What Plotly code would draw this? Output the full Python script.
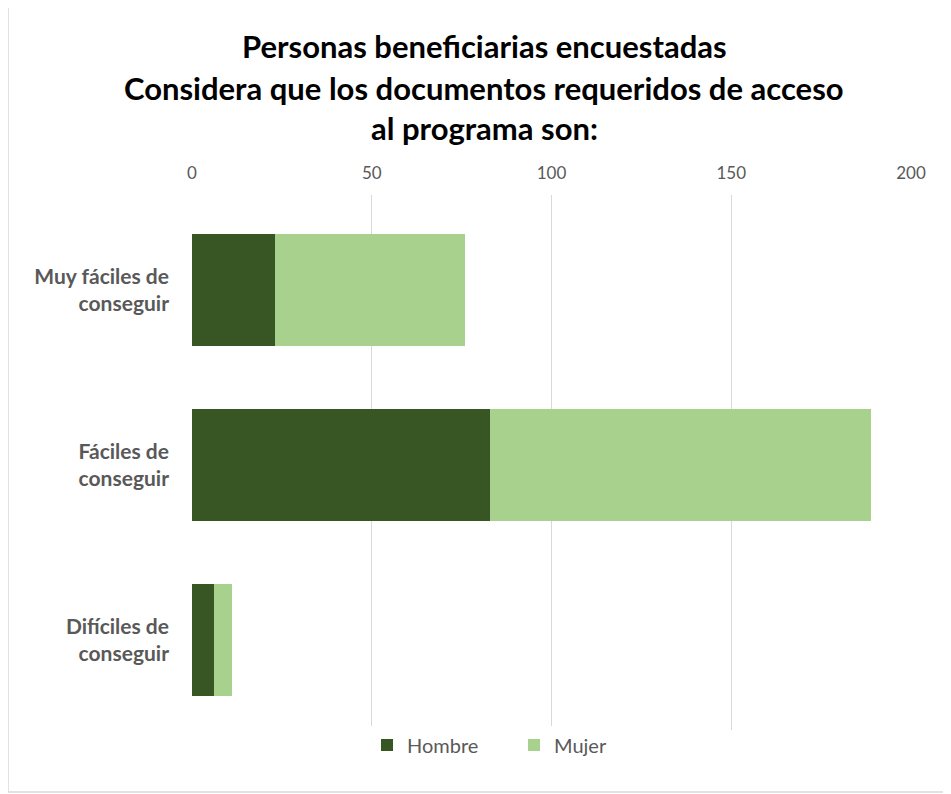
import plotly.graph_objects as go

categories = ["Muy fáciles de<br>conseguir", "Fáciles de<br>conseguir", "Difíciles de<br>conseguir"]
hombre = [23, 83, 6]
mujer = [53, 106, 5]
x_ticks = [0, 50, 100, 150, 200]
title_lines = [
    "Personas beneficiarias encuestadas",
    "Considera que los documentos requeridos de acceso",
    "al programa son:",
]

OFF = 8  # page body margin
W, H = 951 - OFF, 794 - OFF
L, R, T, B = 192 - OFF, 40, 195 - OFF, 794 - 730
pw, ph = W - L - R, H - T - B

FONT = "Lato, Open Sans, sans-serif"

fig = go.Figure()
fig.add_trace(go.Bar(y=categories, x=hombre, name="Hombre", orientation="h",
                     marker=dict(color="#375623", line=dict(width=0))))
fig.add_trace(go.Bar(y=categories, x=mujer, name="Mujer", orientation="h",
                     marker=dict(color="#A9D18E", line=dict(width=0))))

def px_x(p):
    return (p - OFF - L) / pw

def px_y(p):
    return (H - B - (p - OFF)) / ph

annotations = []
for yc, txt in zip([46, 88, 128], title_lines):
    annotations.append(dict(text="<b>" + txt + "</b>", xref="paper", yref="paper",
                            x=px_x(484), y=px_y(yc), xanchor="center", yanchor="middle",
                            showarrow=False, font=dict(family=FONT, size=31, color="#000000")))

fig.update_layout(
    width=W, height=H,
    margin=dict(l=L, r=R, t=T, b=B),
    barmode="stack",
    bargap=0.355,
    plot_bgcolor="white",
    paper_bgcolor="white",
    font=dict(family=FONT, color="#595959"),
    showlegend=True,
    legend=dict(orientation="h", x=px_x(367), xanchor="left", y=px_y(745), yanchor="middle",
                font=dict(size=20, color="#595959"), traceorder="normal", itemwidth=30,
                entrywidth=102),
    annotations=annotations,
    shapes=[dict(type="rect", xref="paper", yref="paper",
                 x0=px_x(8), x1=px_x(990), y0=px_y(792), y1=px_y(5),
                 line=dict(color="#D9D9D9", width=1.5), fillcolor="rgba(0,0,0,0)", layer="below")],
)
fig.update_xaxes(side="top", range=[0, 200], tickvals=x_ticks, showgrid=True,
                 gridcolor="#D9D9D9", gridwidth=1, zeroline=False, showline=False,
                 tickfont=dict(size=17, color="#595959"), ticks="", fixedrange=True,
                 ticklabelstandoff=12)
fig.update_yaxes(range=[2.514, -0.543], showgrid=False, zeroline=False, showline=False,
                 tickfont=dict(size=21, color="#595959", weight="bold"), ticks="",
                 ticklabelstandoff=22)

fig.write_html("out.html")
